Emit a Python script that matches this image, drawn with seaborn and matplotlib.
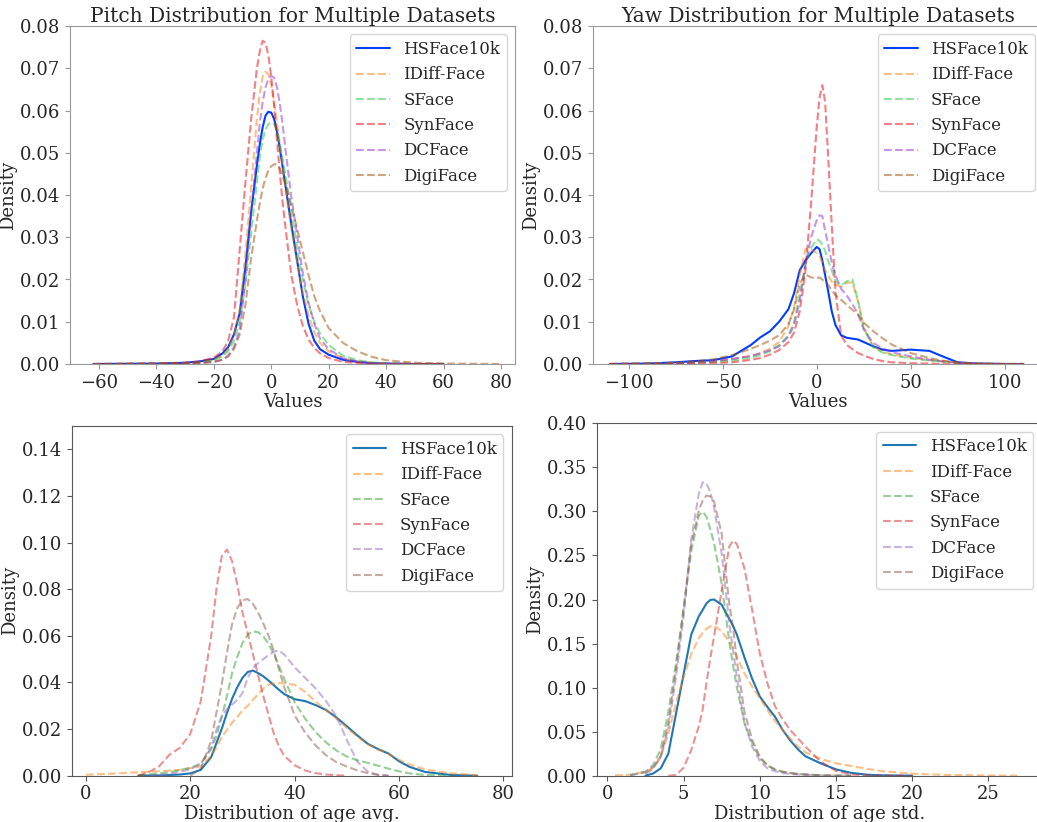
import numpy as np
import matplotlib.pyplot as plt
import seaborn as sns

nan = np.nan
names = ["HSFace10k", "IDiff-Face", "SFace", "SynFace", "DCFace", "DigiFace"]

# ---- Pitch (density read at these x values)
pitch_x = [-62, -40, -30, -25, -20, -17, -15, -13, -11, -9, -7, -5, -4, -3, -2, -1, 0, 1, 2, 3,
           4, 5, 7, 9, 11, 13, 15, 17, 20, 25, 30, 35, 40, 50, 60, 80]
pitch_hsface = [0, 0.0001, 0.0003, 0.0006, 0.0012, 0.0025, 0.0040, 0.0070, 0.0120, 0.0230, 0.0360, 0.0470,
                0.0520, 0.0560, 0.0588, 0.0597, 0.0595, 0.0580, 0.0550, 0.0510, 0.0465, 0.0420, 0.0330,
                0.0245, 0.0160, 0.0095, 0.0055, 0.0035, 0.0022, 0.0010, 0.0005, 0.0002, 0.0001, 0, 0, nan]
pitch_idiff = [0, 0.0001, 0.0002, 0.0004, 0.0010, 0.0020, 0.0035, 0.0065, 0.0130, 0.0260, 0.0420, 0.0580,
               0.0640, 0.0680, 0.0692, 0.0685, 0.0660, 0.0620, 0.0570, 0.0520, 0.0465, 0.0410, 0.0320,
               0.0240, 0.0170, 0.0115, 0.0075, 0.0050, 0.0030, 0.0013, 0.0006, 0.0003, 0.0001, 0, 0, nan]
pitch_sface = [0, 0.0001, 0.0002, 0.0004, 0.0009, 0.0018, 0.0030, 0.0055, 0.0100, 0.0190, 0.0310, 0.0430,
               0.0490, 0.0530, 0.0555, 0.0568, 0.0572, 0.0568, 0.0550, 0.0520, 0.0485, 0.0445, 0.0360,
               0.0275, 0.0200, 0.0140, 0.0100, 0.0072, 0.0045, 0.0020, 0.0009, 0.0004, 0.0002, 0, 0, nan]
pitch_synface = [0, 0.0001, 0.0003, 0.0006, 0.0015, 0.0030, 0.0055, 0.0110, 0.0270, 0.0430, 0.0580, 0.0700,
                 0.0740, 0.0765, 0.0760, 0.0730, 0.0680, 0.0610, 0.0530, 0.0450, 0.0380, 0.0320, 0.0210,
                 0.0140, 0.0090, 0.0058, 0.0038, 0.0025, 0.0014, 0.0005, 0.0002, 0.0001, 0, 0, 0, nan]
pitch_dcface = [0, 0, 0.0001, 0.0002, 0.0005, 0.0010, 0.0020, 0.0040, 0.0080, 0.0200, 0.0360, 0.0500,
                0.0570, 0.0620, 0.0655, 0.0675, 0.0682, 0.0678, 0.0655, 0.0615, 0.0565, 0.0505, 0.0395,
                0.0305, 0.0215, 0.0145, 0.0095, 0.0060, 0.0035, 0.0014, 0.0006, 0.0002, 0.0001, 0, 0, nan]
pitch_digiface = [0, 0, 0.0001, 0.0002, 0.0005, 0.0010, 0.0018, 0.0035, 0.0070, 0.0140, 0.0250, 0.0340,
                  0.0380, 0.0415, 0.0440, 0.0458, 0.0468, 0.0473, 0.0472, 0.0462, 0.0445, 0.0425, 0.0375,
                  0.0320, 0.0265, 0.0210, 0.0160, 0.0125, 0.0085, 0.0050, 0.0030, 0.0017, 0.0009, 0.0003,
                  0.0001, 0]

# ---- Yaw
yaw_x = [-110, -90, -75, -65, -55, -45, -35, -30, -25, -20, -15, -12, -9, -6, -3, 0, 1.5, 3, 4.5, 6,
         8, 10, 13, 16, 19, 22, 25, 30, 35, 40, 50, 60, 67, 75, 85, 100, 110]
yaw_hsface = [0, 0.0001, 0.0004, 0.0007, 0.0009, 0.0018, 0.0045, 0.0063, 0.0077, 0.0100, 0.0130, 0.0168,
              0.0222, 0.0245, 0.0262, 0.0277, 0.0272, 0.0245, 0.0210, 0.0175, 0.0125, 0.0092, 0.0068,
              0.0062, 0.0060, 0.0058, 0.0052, 0.0042, 0.0034, 0.0031, 0.0034, 0.0031, 0.0018, 0.0004,
              0.0001, 0, 0]
yaw_idiff = [0, 0.0001, 0.0002, 0.0003, 0.0006, 0.0012, 0.0019, 0.0026, 0.0036, 0.0052, 0.0090, 0.0135,
             0.0210, 0.0272, 0.0272, 0.0262, 0.0256, 0.0240, 0.0222, 0.0210, 0.0195, 0.0188, 0.0183,
             0.0192, 0.0193, 0.0148, 0.0088, 0.0042, 0.0029, 0.0023, 0.0015, 0.0009, 0.0006, 0.0003,
             0.0001, 0, 0]
yaw_sface = [0, 0.0001, 0.0002, 0.0003, 0.0005, 0.0008, 0.0015, 0.0021, 0.0030, 0.0045, 0.0068, 0.0100,
             0.0165, 0.0235, 0.0275, 0.0295, 0.0292, 0.0282, 0.0268, 0.0245, 0.0222, 0.0195, 0.0186,
             0.0196, 0.0200, 0.0150, 0.0085, 0.0040, 0.0027, 0.0021, 0.0013, 0.0008, 0.0006, 0.0003,
             0.0001, 0, 0]
yaw_synface = [0, 0, 0, 0.0001, 0.0002, 0.0004, 0.0010, 0.0014, 0.0022, 0.0033, 0.0052, 0.0075,
               0.0125, 0.0220, 0.0380, 0.0560, 0.0630, 0.0660, 0.0620, 0.0500, 0.0330, 0.0170, 0.0068,
               0.0045, 0.0035, 0.0026, 0.0020, 0.0012, 0.0007, 0.0004, 0.0002, 0.0001, 0, 0, 0, 0, 0]
yaw_dcface = [0, 0.0001, 0.0002, 0.0004, 0.0007, 0.0012, 0.0019, 0.0025, 0.0032, 0.0042, 0.0065, 0.0092,
              0.0150, 0.0235, 0.0300, 0.0340, 0.0352, 0.0350, 0.0315, 0.0285, 0.0240, 0.0210, 0.0178,
              0.0162, 0.0142, 0.0118, 0.0082, 0.0050, 0.0037, 0.0028, 0.0018, 0.0010, 0.0006, 0.0003,
              0.0001, 0, 0]
yaw_digiface = [0, 0.0001, 0.0003, 0.0006, 0.0011, 0.0021, 0.0036, 0.0045, 0.0055, 0.0068, 0.0095, 0.0130,
                0.0190, 0.0212, 0.0205, 0.0203, 0.0205, 0.0200, 0.0193, 0.0188, 0.0175, 0.0163, 0.0152,
                0.0140, 0.0128, 0.0117, 0.0098, 0.0078, 0.0061, 0.0046, 0.0026, 0.0014, 0.0008, 0.0004,
                0.0001, 0, 0]

# ---- Age avg.
age_x = [0, 5, 10, 12, 14, 16, 18, 20, 22, 24, 25, 26, 27, 28, 29, 30, 31, 32, 33, 34,
         35, 36, 37, 38, 40, 42, 44, 46, 48, 50, 52, 54, 56, 58, 60, 62, 65, 70, 75, 80]
age_hsface = [nan, nan, 0, 0.0001, 0.0001, 0.0003, 0.0005, 0.0010, 0.0025, 0.0080, 0.0140, 0.0200, 0.0268,
              0.0330, 0.0380, 0.0420, 0.0445, 0.0451, 0.0440, 0.0426, 0.0408, 0.0388, 0.0368, 0.0350,
              0.0328, 0.0320, 0.0303, 0.0282, 0.0250, 0.0212, 0.0173, 0.0137, 0.0114, 0.0095, 0.0062,
              0.0038, 0.0016, 0.0003, 0, nan]
age_idiff = [0.0004, 0.0009, 0.0015, 0.0017, 0.0019, 0.0022, 0.0025, 0.0032, 0.0040, 0.0085, 0.0120, 0.0165,
             0.0196, 0.0228, 0.0252, 0.0280, 0.0300, 0.0325, 0.0350, 0.0375, 0.0390, 0.0396, 0.0397,
             0.0396, 0.0390, 0.0360, 0.0318, 0.0282, 0.0245, 0.0205, 0.0168, 0.0135, 0.0112, 0.0094,
             0.0068, 0.0048, 0.0027, 0.0010, 0.0002, nan]
age_sface = [nan, nan, 0.0002, 0.0005, 0.0010, 0.0015, 0.0024, 0.0034, 0.0052, 0.0115, 0.0170, 0.0250,
             0.0340, 0.0440, 0.0510, 0.0570, 0.0605, 0.0620, 0.0615, 0.0598, 0.0565, 0.0522, 0.0470,
             0.0415, 0.0315, 0.0245, 0.0187, 0.0143, 0.0108, 0.0082, 0.0066, 0.0055, 0.0043, 0.0030,
             0.0019, 0.0010, 0.0003, 0, nan, nan]
age_synface = [nan, nan, 0, 0.0015, 0.0040, 0.0090, 0.0120, 0.0180, 0.0320, 0.0600, 0.0800, 0.0940,
               0.0970, 0.0920, 0.0820, 0.0700, 0.0610, 0.0520, 0.0430, 0.0340, 0.0260, 0.0180, 0.0125,
               0.0085, 0.0045, 0.0022, 0.0011, 0.0005, 0.0002, 0, nan, nan, nan, nan, nan, nan, nan, nan,
               nan, nan]
age_dcface = [nan, nan, nan, 0.0001, 0.0003, 0.0008, 0.0016, 0.0028, 0.0050, 0.0120, 0.0196, 0.0255,
              0.0285, 0.0305, 0.0325, 0.0355, 0.0420, 0.0462, 0.0483, 0.0500, 0.0518, 0.0532, 0.0537,
              0.0520, 0.0465, 0.0420, 0.0375, 0.0320, 0.0255, 0.0153, 0.0060, 0.0018, 0.0003, 0, nan,
              nan, nan, nan, nan, nan]
age_digiface = [nan, nan, nan, nan, nan, nan, nan, 0, 0.0030, 0.0150, 0.0270, 0.0390, 0.0526, 0.0650,
                0.0720, 0.0752, 0.0758, 0.0737, 0.0700, 0.0652, 0.0600, 0.0535, 0.0455, 0.0380, 0.0258,
                0.0185, 0.0130, 0.0088, 0.0058, 0.0039, 0.0023, 0.0011, 0.0004, 0, nan, nan, nan, nan,
                nan, nan]

# ---- Age std.
std_x = [0.5, 1.5, 2.5, 3, 3.5, 4, 4.5, 5, 5.5, 6, 6.25, 6.5, 6.75, 7, 7.5, 8, 8.25, 8.5, 9, 9.5,
         10, 10.5, 11, 11.5, 12, 12.5, 13, 14, 15, 16, 17, 18, 20, 22, 25, 27]
std_hsface = [nan, nan, 0, 0.0025, 0.0083, 0.0250, 0.0700, 0.1150, 0.1600, 0.1810, 0.1880, 0.1955,
              0.1995, 0.2000, 0.1940, 0.1780, 0.1700, 0.1600, 0.1340, 0.1100, 0.0900, 0.0780, 0.0670,
              0.0520, 0.0400, 0.0300, 0.0220, 0.0140, 0.0072, 0.0032, 0.0012, 0.0004, 0, nan, nan, nan]
std_idiff = [0.0004, 0.0011, 0.0045, 0.0090, 0.0210, 0.0480, 0.0820, 0.1120, 0.1380, 0.1560, 0.1620,
             0.1670, 0.1695, 0.1700, 0.1640, 0.1520, 0.1450, 0.1350, 0.1160, 0.1010, 0.0880, 0.0746,
             0.0620, 0.0520, 0.0420, 0.0330, 0.0265, 0.0190, 0.0140, 0.0110, 0.0080, 0.0052, 0.0023,
             0.0010, 0.0002, 0]
std_sface = [nan, 0.0005, 0.0045, 0.0120, 0.0300, 0.0720, 0.1280, 0.1880, 0.2550, 0.2950, 0.2997, 0.2940,
             0.2800, 0.2640, 0.2180, 0.1520, 0.1250, 0.1000, 0.0590, 0.0370, 0.0200, 0.0115, 0.0070,
             0.0045, 0.0030, 0.0020, 0.0014, 0.0004, 0.0001, 0, nan, nan, nan, nan, nan, nan]
std_synface = [nan, nan, nan, nan, nan, 0, 0.0008, 0.0090, 0.0290, 0.0560, 0.0750, 0.1050, 0.1330,
               0.1580, 0.2100, 0.2600, 0.2668, 0.2630, 0.2350, 0.1880, 0.1390, 0.1050, 0.0790, 0.0640,
               0.0518, 0.0425, 0.0330, 0.0159, 0.0055, 0.0013, 0.0005, 0.0001, 0, nan, nan, nan]
std_dcface = [nan, 0.0005, 0.0040, 0.0100, 0.0220, 0.0540, 0.1120, 0.1800, 0.2680, 0.3200, 0.3330,
              0.3320, 0.3220, 0.3050, 0.2520, 0.1730, 0.1420, 0.1120, 0.0600, 0.0330, 0.0170, 0.0083,
              0.0050, 0.0030, 0.0020, 0.0014, 0.0010, 0.0004, 0.0001, 0, nan, nan, nan, nan, nan, nan]
std_digiface = [nan, nan, 0.0020, 0.0080, 0.0216, 0.0600, 0.1200, 0.1900, 0.2620, 0.3010, 0.3120,
                0.3180, 0.3170, 0.3110, 0.2750, 0.1950, 0.1680, 0.1300, 0.0720, 0.0410, 0.0216, 0.0120,
                0.0070, 0.0045, 0.0030, 0.0020, 0.0014, 0.0004, 0.0001, 0, nan, nan, nan, nan, nan, nan]


sns.set_style("ticks")
plt.rcParams["font.family"] = ["DejaVu Serif"]

bright = sns.color_palette("bright")
tab = sns.color_palette("tab10")


def draw(ax, x, series, colors, xlim, ylim, xticks, yticks, xlabel, title=None, edge="0.6"):
    for i, (name, vals) in enumerate(zip(names, series)):
        if i == 0:
            sns.lineplot(x=x, y=vals, ax=ax, color=colors[i], linewidth=1.5, label=name)
        else:
            sns.lineplot(x=x, y=vals, ax=ax, color=colors[i], linewidth=1.5, linestyle="--",
                         alpha=0.5, label=name)
    ax.set_xlim(*xlim)
    ax.set_ylim(*ylim)
    ax.set_xticks(xticks)
    ax.set_yticks(yticks)
    ax.tick_params(labelsize=13, color=edge)
    for s in ax.spines.values():
        s.set_color(edge)
    ax.set_xlabel(xlabel, fontsize=13, labelpad=1)
    ax.set_ylabel("Density", fontsize=13, labelpad=2)
    if title:
        ax.set_title(title, fontsize=14.5, pad=3)
    ax.legend(loc="upper right", fontsize=12)


fig = plt.figure(figsize=(10.37, 8.22), dpi=100)

ax1 = fig.add_axes([70 / 1037, 1 - 364 / 822, 445 / 1037, 338 / 822])
draw(ax1, pitch_x, [pitch_hsface, pitch_idiff, pitch_sface, pitch_synface, pitch_dcface, pitch_digiface],
     bright, (-70.1, 84.9), (0, 0.08), range(-60, 81, 20), np.arange(0, 0.081, 0.01), "Values",
     "Pitch Distribution for Multiple Datasets")

ax2 = fig.add_axes([593 / 1037, 1 - 364 / 822, 450 / 1037, 338 / 822])
draw(ax2, yaw_x, [yaw_hsface, yaw_idiff, yaw_sface, yaw_synface, yaw_dcface, yaw_digiface],
     bright, (-119, 120.4), (0, 0.08), [-100, -50, 0, 50, 100], np.arange(0, 0.081, 0.01), "Values",
     "Yaw Distribution for Multiple Datasets")

ax3 = fig.add_axes([72.3 / 1037, 1 - 775.7 / 822, 439.4 / 1037, 349.7 / 822])
draw(ax3, age_x, [age_hsface, age_idiff, age_sface, age_synface, age_dcface, age_digiface],
     tab, (-2.63, 81.6), (0, 0.15), range(0, 81, 20), np.arange(0, 0.141, 0.02),
     "Distribution of age avg.", edge="0.35")

ax4 = fig.add_axes([596.7 / 1037, 1 - 775.7 / 822, 445 / 1037, 352.4 / 822])
draw(ax4, std_x, [std_hsface, std_idiff, std_sface, std_synface, std_dcface, std_digiface],
     tab, (-0.7, 28.5), (0, 0.40), range(0, 26, 5), np.arange(0, 0.401, 0.05),
     "Distribution of age std.", edge="0.35")

fig.savefig("out.png", dpi=100)
